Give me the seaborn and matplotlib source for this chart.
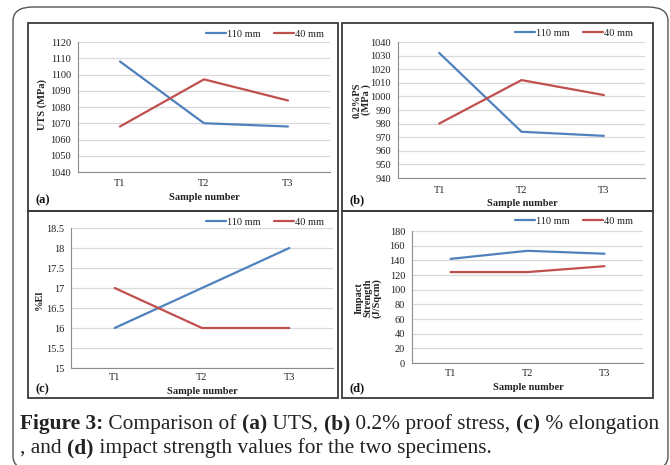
import matplotlib
matplotlib.use("Agg")
import matplotlib.pyplot as plt
from matplotlib.patches import Rectangle, FancyBboxPatch
import seaborn as sns
import pandas as pd

# ---------------- data ----------------
samples = ["T1", "T2", "T3"]
series_names = ["110 mm", "40 mm"]
uts_110 = [1108, 1070, 1068]
uts_40 = [1068, 1097, 1084]
ps_110 = [1032, 974, 971]
ps_40 = [980, 1012, 1001]
el_110 = [16, 17, 18]
el_40 = [17, 16, 16]
imp_110 = [142, 153, 149]
imp_40 = [124, 124, 132]

sns.set_theme(style="white")
plt.rcParams["font.family"] = ["Liberation Serif", "DejaVu Serif"]

W, H = 670, 465
fig = plt.figure(figsize=(W / 100, H / 100), dpi=100)
fig.patch.set_facecolor("white")

def fx(x):
    return x / W

def fy(y):
    return 1 - y / H

BLUE = "#4F81BD"
RED = "#C0504D"
GRID = "#D9D9D9"
AX = "#8C8C8C"

# outer rounded frame
fig.patches.append(FancyBboxPatch((fx(13), fy(470)), fx(655) , 1 - fy(470) - (1 - fy(7)),
                                  boxstyle="round,pad=0,rounding_size=0.03",
                                  transform=fig.transFigure, fill=False,
                                  edgecolor="#555555", linewidth=1.0, zorder=0))

# panel boxes
for (x0, y0, x1, y1) in [(28, 23, 338, 211), (342, 23, 653, 211),
                         (28, 211, 338, 398), (342, 211, 653, 398)]:
    fig.patches.append(Rectangle((fx(x0), fy(y1)), fx(x1) - fx(x0), fy(y0) - fy(y1),
                                 transform=fig.transFigure, fill=False,
                                 edgecolor="#3a3a3a", linewidth=1.3, zorder=1))

panels = [
    dict(vals=(uts_110, uts_40), rect=(78, 42, 330, 172), ylim=(1040, 1120), step=10,
         ylabel="UTS (MPa)", ylab_xy=(42, 104), xlab_xy=(204, 197), tick_y=183,
         tag="(a)", tag_xy=(36, 200), leg_xy=(265, 34)),
    dict(vals=(ps_110, ps_40), rect=(398, 42, 645, 178), ylim=(940, 1040), step=10,
         ylabel="0.2%PS\n(MPa )", ylab_xy=(362, 100), xlab_xy=(522, 203), tick_y=190,
         tag="(b)", tag_xy=(350, 200), leg_xy=(574, 33)),
    dict(vals=(el_110, el_40), rect=(71, 228, 333, 368), ylim=(15, 18.5), step=0.5,
         ylabel="%El", ylab_xy=(39, 300), xlab_xy=(202, 391), tick_y=378,
         tag="(c)", tag_xy=(36, 389), leg_xy=(265, 222)),
    dict(vals=(imp_110, imp_40), rect=(412, 231, 643, 363), ylim=(0, 180), step=20,
         ylabel="Impact\nStrength\n(J/Sqcm)", ylab_xy=(368, 298), xlab_xy=(528, 387), tick_y=373,
         tag="(d)", tag_xy=(350, 388), leg_xy=(574, 221)),
]

import numpy as np

for p in panels:
    x0, y0, x1, y1 = p["rect"]
    ax = fig.add_axes([fx(x0), fy(y1), fx(x1) - fx(x0), fy(y0) - fy(y1)])
    df = pd.DataFrame({
        "Sample": samples * 2,
        "value": list(p["vals"][0]) + list(p["vals"][1]),
        "series": [series_names[0]] * 3 + [series_names[1]] * 3,
    })
    sns.lineplot(data=df, x="Sample", y="value", hue="series", hue_order=series_names,
                 palette=[BLUE, RED], linewidth=1.6, ax=ax, legend=True, sort=False)
    ax.set_xlim(-0.5, 2.5)
    lo, hi = p["ylim"]
    ax.set_ylim(lo, hi)
    ticks = np.arange(lo, hi + p["step"] / 2, p["step"])
    ax.set_yticks(ticks)
    ax.set_yticklabels([("%g" % t) for t in ticks], fontsize=7.5)
    ax.yaxis.grid(True, color=GRID, linewidth=0.9)
    ax.set_axisbelow(True)
    ax.set_xticks([0, 1, 2])
    ax.set_xticklabels([])
    ax.set_xticks([-0.5, 0.5, 1.5, 2.5], minor=True)
    ax.tick_params(axis="x", which="major", length=0)
    ax.tick_params(axis="x", which="minor", length=3, color=AX, width=0.8, direction="out")
    ax.tick_params(axis="y", length=3, color=AX, width=0.8, direction="out", pad=2,
                   labelcolor="#222222")
    for s in ["top", "right"]:
        ax.spines[s].set_visible(False)
    for s in ["left", "bottom"]:
        ax.spines[s].set_color(AX)
        ax.spines[s].set_linewidth(0.8)
    ax.set_xlabel("")
    ax.set_ylabel("")
    ax.patch.set_alpha(0)
    # category labels
    for i, s in enumerate(samples):
        xp = x0 + (i + 0.5) / 3 * (x1 - x0)
        fig.text(fx(xp), fy(p["tick_y"]), s, fontsize=7.5, ha="center", va="center",
                 color="#222222")
    fig.text(fx(p["xlab_xy"][0]), fy(p["xlab_xy"][1]), "Sample number", fontsize=7.5,
             fontweight="bold", ha="center", va="center", color="#222222")
    fig.text(fx(p["ylab_xy"][0]), fy(p["ylab_xy"][1]), p["ylabel"], fontsize=7.5,
             fontweight="bold", ha="center", va="center", rotation=90,
             color="#222222", linespacing=1.0, multialignment="center")
    fig.text(fx(p["tag_xy"][0]), fy(p["tag_xy"][1]), p["tag"], fontsize=9,
             fontweight="bold", ha="left", va="center", color="#111111")
    leg = ax.legend(loc="center", bbox_to_anchor=(fx(p["leg_xy"][0]), fy(p["leg_xy"][1])),
                    bbox_transform=fig.transFigure, ncol=2, frameon=False, fontsize=7.5,
                    handlelength=2.0, handletextpad=0.1, columnspacing=1.2,
                    borderpad=0, borderaxespad=0)
    for t in leg.get_texts():
        t.set_color("#222222")

# ---------------- caption with mixed weights ----------------
line1 = [("Figure 3:", True), (" Comparison of ", False), ("(a)", True), (" UTS, ", False),
         ("(b)", True), (" 0.2% proof stress, ", False), ("(c)", True), (" % elongation", False)]
line2 = [(", and ", False), ("(d)", True),
         (" impact strength values for the two specimens.", False)]

renderer = fig.canvas.get_renderer()

def draw_line(parts, x_start, y, size):
    x = x_start
    for txt, bold in parts:
        t = fig.text(fx(x), fy(y), txt, fontsize=size, fontweight="bold" if bold else "normal",
                     ha="left", va="baseline", color="#222222")
        bb = t.get_window_extent(renderer=renderer)
        x += bb.width
    return x - x_start

# fit font size to target line width
size = 12.0
test = draw_line(line1, 0, -100, size)
for t in list(fig.texts)[-len(line1):]:
    t.remove()
size = size * (636 / test)
draw_line(line1, 20, 429, size)
draw_line(line2, 20, 453, size)

fig.savefig("out.png", dpi=100, facecolor="white")
